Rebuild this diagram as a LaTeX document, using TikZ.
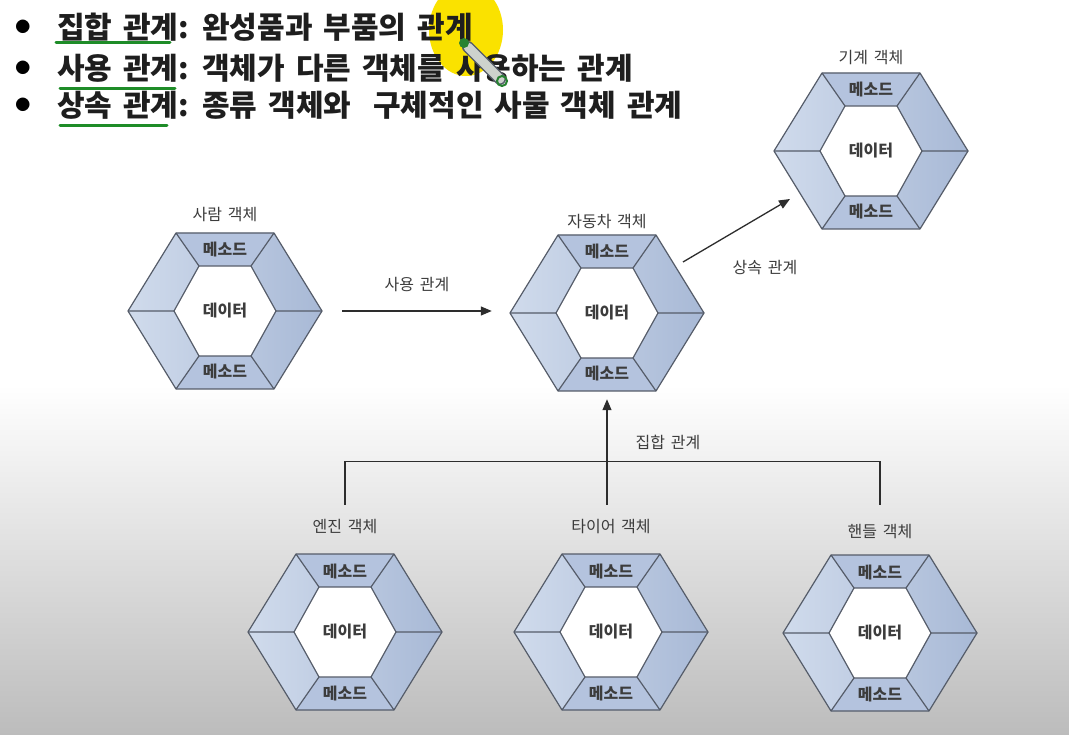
\documentclass[tikz,border=0pt]{standalone}
\usepackage{fontspec}
\setmainfont{Noto Sans CJK KR}
\newfontfamily\headfont[WordSpace=1.6]{Noto Sans CJK KR}
\usetikzlibrary{shapes, arrows.meta, positioning}

\definecolor{hexlight}{RGB}{208,219,236}
\definecolor{hexdark}{RGB}{168,185,214}
\definecolor{hextop}{RGB}{180,195,222}
\definecolor{hexline}{RGB}{85,92,105}
\definecolor{textgray}{RGB}{60,60,60}
\definecolor{headgray}{RGB}{30,30,30}
\definecolor{linegray}{RGB}{45,45,45}
\definecolor{bggray}{RGB}{188,188,188}
\definecolor{markgreen}{RGB}{30,140,40}
\definecolor{hiyellow}{RGB}{250,226,0}
\definecolor{pengray}{RGB}{205,210,205}
\definecolor{pengreen}{RGB}{40,130,50}

\tikzset{
  hexedge/.style={draw=hexline, line width=1.2pt, line join=round},
  hextext/.style={font=\fontsize{16}{18}\selectfont\bfseries, text=textgray, inner sep=0pt},
  hexlabel/.style={font=\headfont\fontsize{16}{18}\selectfont, text=textgray, inner sep=0pt},
  rellabel/.style={hexlabel},
  relline/.style={draw=linegray, line width=1.3pt},
  relarrow/.style={relline, -{Triangle[length=11pt, width=9pt]}},
  headline/.style={font=\headfont\fontsize{30}{32}\selectfont\bfseries, text=headgray, anchor=west, inner sep=0pt},
  headdot/.style={font=\fontsize{15}{16}\selectfont, inner sep=0pt},
  underline/.style={draw=markgreen, line width=3pt, line cap=round},
  pics/hexobj/.style 2 args={code={
    % ring
    \shade[left color=hexlight, right color=hexdark]
      (-97,0) -- (-49,-78) -- (49,-78) -- (97,0) -- (49,78) -- (-49,78) -- cycle;
    \fill[hextop] (-49,-78) -- (49,-78) -- (26,-45) -- (-26,-45) -- cycle;
    \fill[hextop] (-49,78) -- (49,78) -- (26,45) -- (-26,45) -- cycle;
    \fill[white] (-51,0) -- (-26,-45) -- (26,-45) -- (51,0) -- (26,45) -- (-26,45) -- cycle;
    \draw[hexedge] (-97,0) -- (-49,-78) -- (49,-78) -- (97,0) -- (49,78) -- (-49,78) -- cycle;
    \draw[hexedge] (-51,0) -- (-26,-45) -- (26,-45) -- (51,0) -- (26,45) -- (-26,45) -- cycle;
    \draw[hexedge] (-97,0) -- (-51,0) (97,0) -- (51,0)
      (-49,-78) -- (-26,-45) (49,-78) -- (26,-45)
      (-49,78) -- (-26,45) (49,78) -- (26,45);
    % texts
    \node[hextext] (-top) at (0,-61) {메소드};
    \node[hextext] (-data) at (0,0) {데이터};
    \node[hextext] (-bottom) at (0,61) {메소드};
    \node[hexlabel] (-title) at (0,#2) {#1};
    \node[inner sep=0pt, minimum width=194pt, minimum height=156pt] (-box) at (0,0) {};
  }},
}

\begin{document}
\begin{tikzpicture}[x=1pt, y=-1pt]
    \useasboundingbox (0,0) rectangle (1069,735);
    \fill[white] (0,0) rectangle (1069,735);
    \shade[top color=white, bottom color=bggray] (0,385) rectangle (1069,735);

    % header
    \fill[hiyellow] (466,30) ellipse [x radius=37pt, y radius=46pt];
    \node[headdot] (dot1) at (23,27) {●};
    \node[headdot] (dot2) at (23,68) {●};
    \node[headdot] (dot3) at (23,105) {●};
    \node[headline] (head1) at (57,27) {집합 관계: 완성품과 부품의 관계};
    \node[headline] (head2) at (57,68) {사용 관계: 객체가 다른 객체를 사용하는 관계};
    \node[headline] (head3) at (57,105) {상속 관계: 종류 객체와\ \ 구체적인 사물 객체 관계};
    \draw[underline] (56,43) -- (170,43);
    \draw[underline] (60,89) -- (175,89);
    \draw[underline] (60,126) -- (167,126);
    \draw[line width=12pt, hexline, line cap=round] (468,47) -- (500,79);
    \draw[line width=9pt, pengray, line cap=round] (468,47) -- (500,79);
    \fill[pengreen] (464,43) circle (5pt);
    \draw[pengreen, line width=2pt] (502,81) circle (5pt);

    % objects
    \pic (person) at (225,311) {hexobj={사람 객체}{-96}};
    \pic (car) at (607,313) {hexobj={자동차 객체}{-91}};
    \pic (mach) at (871,151) {hexobj={기계 객체}{-93}};
    \pic (engine) at (345,632) {hexobj={엔진 객체}{-105}};
    \pic (tire) at (611,632) {hexobj={타이어 객체}{-105}};
    \pic (wheel) at (880,633) {hexobj={핸들 객체}{-101}};

    % relations
    \draw[relarrow] ([xshift=20pt]person-box.east) -- node[rellabel, above=19pt] (uselabel) {사용 관계} ([xshift=-18pt]car-box.west |- person-box.east);
    \draw[relarrow] ([shift={(76,-51)}]car-box.center) -- ([shift={(-81,48)}]mach-box.center);
    \node[rellabel] (inheritlabel) at (765,268) {상속 관계};
    \draw[relarrow] ([yshift=15pt]car-box.south |- tire-title.north) -- ([yshift=-8pt]car-box.south);
    \draw[relline] ([yshift=15pt]engine-title.north) -- ++(0,-43) -| ([yshift=20pt]wheel-title.north);
    \node[rellabel] (aggrlabel) at (668,442) {집합 관계};
\end{tikzpicture}
\end{document}
